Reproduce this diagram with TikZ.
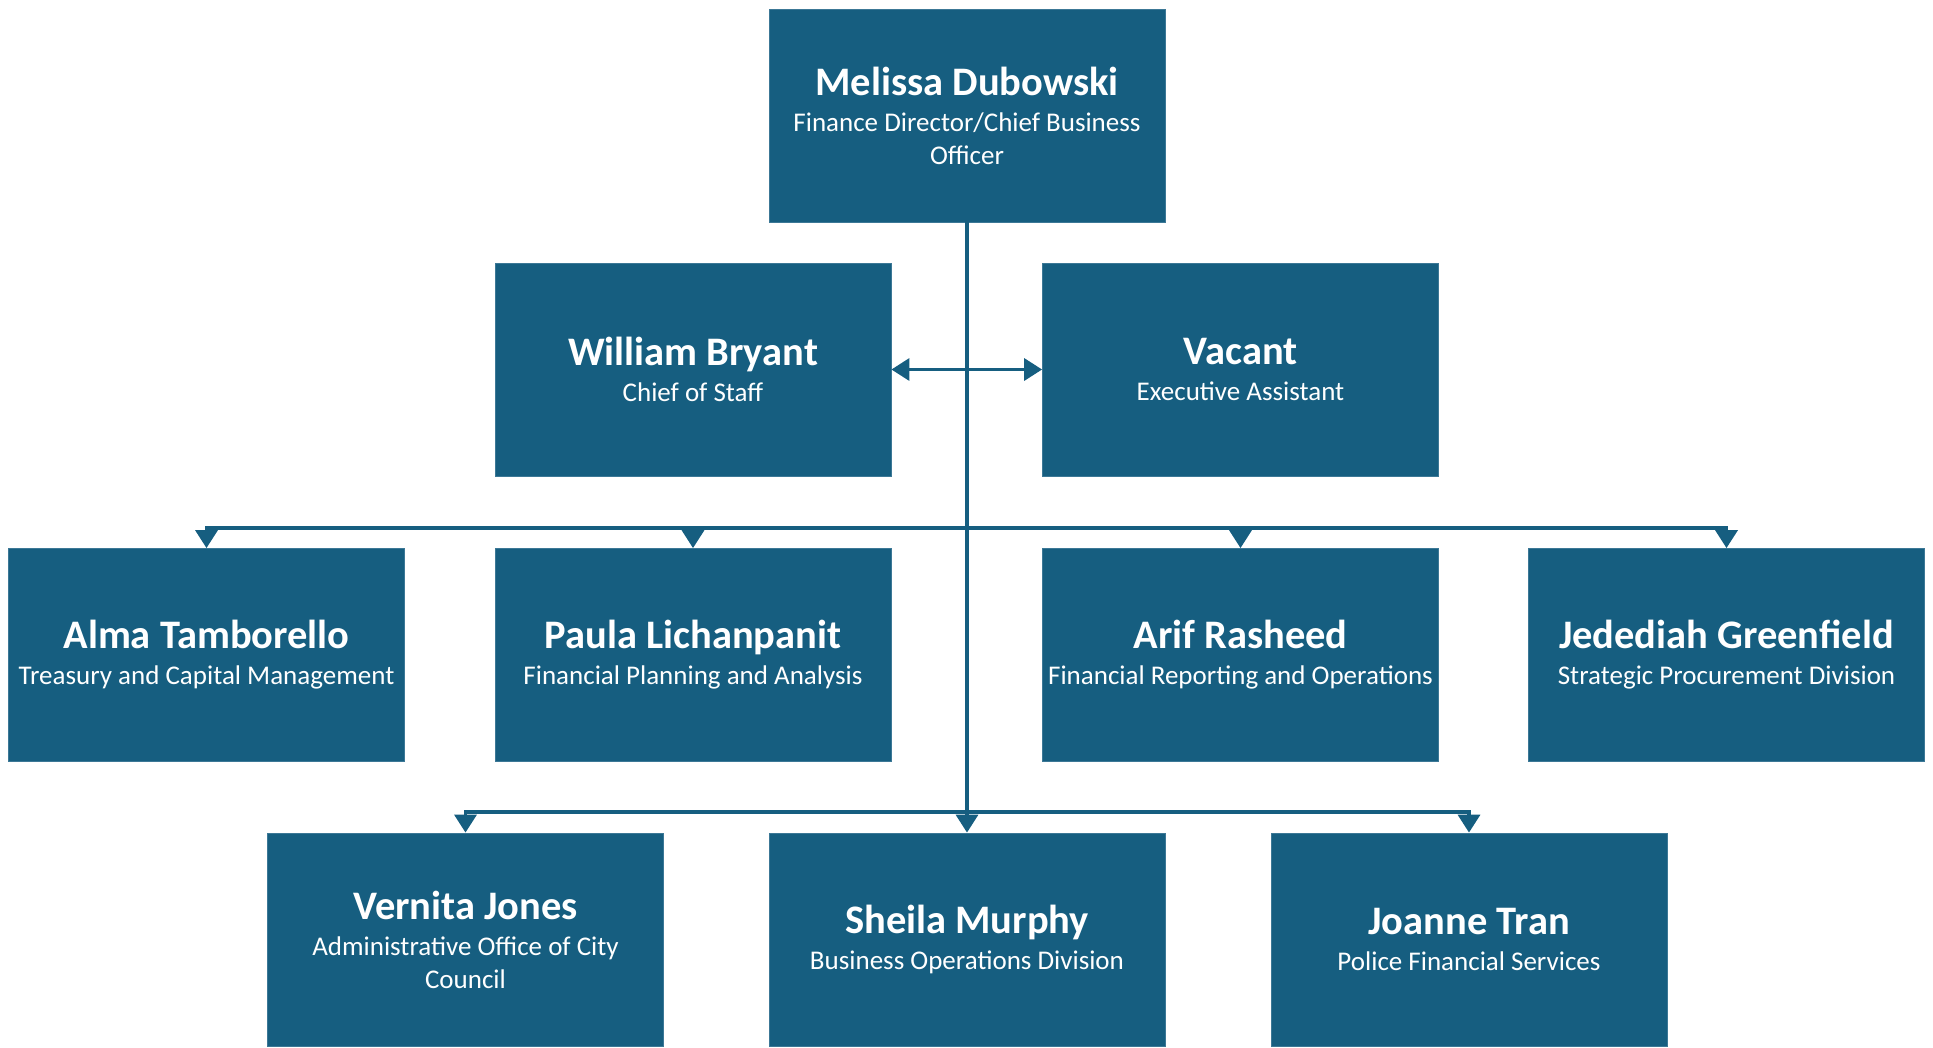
\documentclass[tikz,border=0pt]{standalone}
\usepackage{fontspec}
\setmainfont{Carlito}
\usetikzlibrary{arrows.meta}
\definecolor{boxblue}{RGB}{22,94,128}
\definecolor{boxedge}{RGB}{60,120,150}
\newcommand{\nm}[1]{{\fontsize{40.5}{33}\selectfont\bfseries #1}}
\begin{document}
\begin{tikzpicture}[x=1pt,y=-1pt,
  person/.style={rectangle, fill=boxblue, draw=boxedge, line width=0.8pt,
    minimum width=396pt, minimum height=213pt, inner xsep=0pt, inner ysep=0pt,
    align=center, text=white, font=\fontsize{27}{33}\selectfont},
  conn/.style={draw=boxblue, line width=3.5pt},
  tip/.style={-{Triangle[width=22pt,length=18pt]}}
]
\useasboundingbox (0,0) rectangle (1933,1047);
\begin{scope}
\clip (0,0) rectangle (1933,1047);
\node[person] (top) at (967,115.5) {\nm{Melissa Dubowski}\\[3pt]Finance Director/Chief Business\\Officer};
\node[person] (wb) at (693,369.5) {\nm{William Bryant}\\[3pt]Chief of Staff};
\node[person] (va) at (1240.5,369.5) {\nm{Vacant}\\[3pt]Executive Assistant};
\node[person] (at) at (206.5,655) {\nm{Alma Tamborello}\\[3pt]Treasury and Capital Management};
\node[person] (pl) at (693,655) {\nm{Paula Lichanpanit}\\[3pt]Financial Planning and Analysis};
\node[person] (ar) at (1240.5,655) {\nm{Arif Rasheed}\\[3pt]Financial Reporting and Operations};
\node[person] (jg) at (1726.5,655) {\nm{Jedediah Greenfield}\\[3pt]Strategic Procurement Division};
\node[person] (vj) at (465.5,939.5) {\nm{Vernita Jones}\\[3pt]Administrative Office of City\\Council};
\node[person] (sm) at (967,939.5) {\nm{Sheila Murphy}\\[3pt]Business Operations Division};
\node[person] (jt) at (1469,939.5) {\nm{Joanne Tran}\\[3pt]Police Financial Services};

\coordinate (busA) at (967,528);
\coordinate (busB) at (967,812);

\draw[conn, tip] (top.south) -- (sm.north);
\draw[conn, {Triangle[width=22pt,length=18pt]}-{Triangle[width=22pt,length=18pt]}] (wb.east) -- (va.west);
\draw[conn, tip] (busA) -| (at.north);
\draw[conn, tip] (busA) -| (pl.north);
\draw[conn, tip] (busA) -| (ar.north);
\draw[conn, tip] (busA) -| (jg.north);
\draw[conn, tip] (busB) -| (vj.north);
\draw[conn, tip] (busB) -| (jt.north);
\end{scope}
\end{tikzpicture}
\end{document}
